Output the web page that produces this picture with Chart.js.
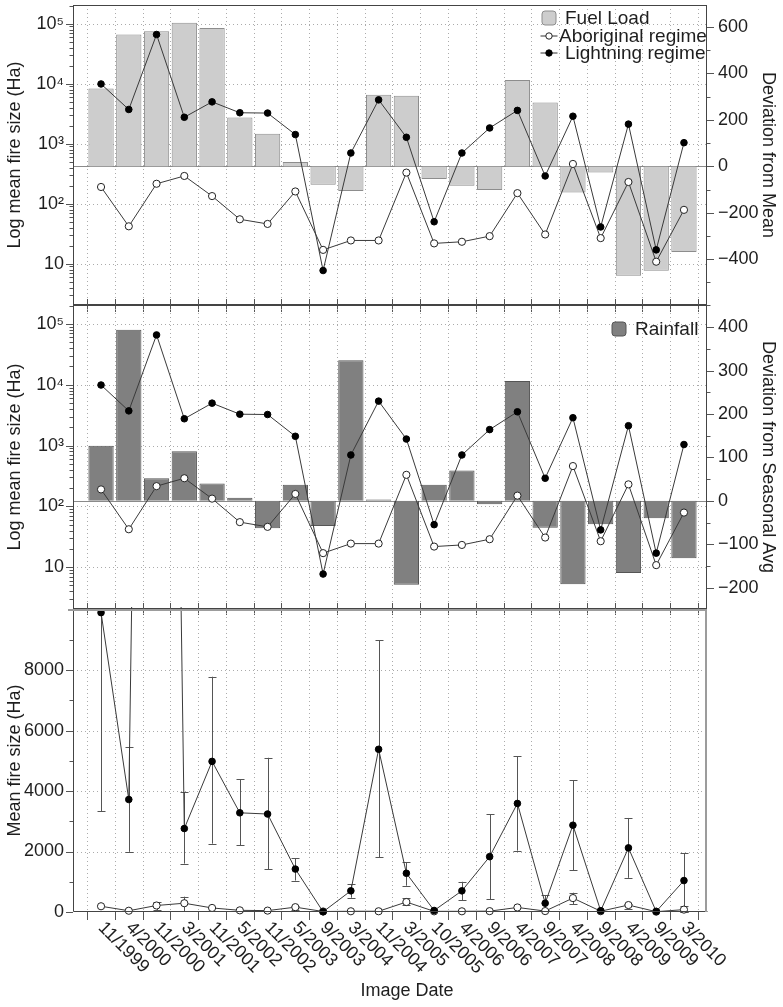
<!DOCTYPE html>
<html><head><meta charset="utf-8">
<script src="https://cdn.jsdelivr.net/npm/chart.js@4.4.1/dist/chart.umd.min.js"></script>
<style>
html,body{margin:0;padding:0;background:#fff;}
body{width:783px;height:1007px;position:relative;overflow:hidden;}
.p{position:absolute;left:0;width:783px;}
</style></head><body>
<div class="p" style="top:0;height:312px"><canvas id="c1"></canvas></div>
<div class="p" style="top:299px;height:316px"><canvas id="c2"></canvas></div>
<div class="p" style="top:603px;height:404px"><canvas id="c3"></canvas></div>
<script>
// ---------------- data ----------------
const categories = ['11/1999','4/2000','11/2000','3/2001','11/2001','5/2002','11/2002','5/2003','9/2003','3/2004','11/2004','3/2005','10/2005','4/2006','9/2006','4/2007','9/2007','4/2008','9/2008','4/2009','9/2009','3/2010'];
const lightning  = [9900, 3720, 66000, 2760, 4980, 3280, 3240, 1420, 7.7, 700, 5380, 1280, 50, 700, 1830, 3590, 290, 2870, 41, 2120, 17, 1040];
const aboriginal = [190, 42, 215, 290, 134, 55, 46, 160, 17, 24.4, 24.4, 330, 21.8, 23.2, 28.8, 150, 30.7, 460, 26.7, 230, 10.8, 79];
const fuelLoadDev = [335, 568, 582, 619, 596, 210, 140, 19, -79, -106, 309, 304, -54, -83, -102, 372, 275, -112, -26, -471, -449, -369];
const rainfallDev = [127, 394, 52, 114, 40, 7, -63, 37, -58, 324, 3, -193, 37, 70, -8, 276, -62, -192, -54, -166, -40, -132];
const lightningLo = [3340, 1990, 30000, 1600, 2260, 2210, 1410, 1040, null, 473, 1810, 870, null, 390, 420, 2030, 60, 1380, null, 1130, null, 10];
const lightningHi = [16000, 5450, 100000, 3960, 7780, 4390, 5100, 1780, null, 915, 8980, 1640, null, 1000, 3230, 5150, 550, 4350, null, 3110, null, 1940];
const aboriginalLo = [null, null, 66, 33, null, null, null, 60, null, null, null, 231, null, null, null, null, null, 264, null, 109, null, 0];
const aboriginalHi = [null, null, 330, 506, null, null, null, 200, null, null, null, 453, null, null, null, null, null, 638, null, 274, null, 200];
const logTickValues = [10, 100, 1000, 10000, 100000];
const logTickLabels = ['10', '10²', '10³', '10⁴', '10⁵'];
const fuelTickValues = [-400, -200, 0, 200, 400, 600];
const rainTickValues = [-200, -100, 0, 100, 200, 300, 400];
const meanTickValues = [0, 2000, 4000, 6000, 8000];

// ---------------- helpers ----------------
const FONT = '"Liberation Sans", Arial, Helvetica, sans-serif';
const TXT = '#1e1e1e';
const pts = arr => arr.map((v, i) => ({x: i, y: v}));
function seg(ctx, x1, y1, x2, y2) { ctx.beginPath(); ctx.moveTo(x1, y1); ctx.lineTo(x2, y2); ctx.stroke(); }
const fmtNum = v => String(v).replace('-', '\u2212');

function xAxis() { return {type: 'linear', display: false, min: -1.01, max: 21.83, offset: false}; }
function fixPad(s) { s.paddingTop = 0; s.paddingBottom = 0; }
function leftLog(title) {
  return {
    type: 'logarithmic', position: 'left', min: 2.05, max: 205000,
    afterBuildTicks: s => { s.ticks = logTickValues.map(v => ({value: v})); },
    afterFit: s => { s.width = 73; fixPad(s); },
    grid: {display: false, drawTicks: true, tickLength: 6}, border: {display: false},
    ticks: {autoSkip: false, padding: 3, color: TXT, font: {family: FONT, size: 18},
      callback: v => { const k = logTickValues.indexOf(v); return k < 0 ? '' : logTickLabels[k]; }},
    title: {display: true, text: title, color: TXT, font: {family: FONT, size: 18}, padding: {top: 4, bottom: 4}}
  };
}
function linAxis(pos, min, max, tickVals, title, width) {
  return {
    type: 'linear', position: pos, min: min, max: max,
    afterBuildTicks: s => { s.ticks = tickVals.map(v => ({value: v})); },
    afterFit: s => { s.width = width; fixPad(s); },
    grid: {display: false, drawTicks: true, tickLength: 6}, border: {display: false},
    ticks: {autoSkip: false, padding: pos === 'left' ? 3 : 5, color: TXT, font: {family: FONT, size: 18}, callback: v => fmtNum(v)},
    title: {display: true, text: title, color: TXT, font: {family: FONT, size: 18}, padding: {top: 4, bottom: 4}}
  };
}
function aboDs(axis, clip) {
  return {type: 'line', label: 'Aboriginal regime', data: pts(aboriginal), yAxisID: axis, borderColor: '#3a3a3a', borderWidth: 1,
    pointRadius: 3.6, pointBorderWidth: 1, pointBackgroundColor: '#fff', pointBorderColor: '#222', tension: 0, order: 2, clip: clip};
}
function ligDs(axis, clip) {
  return {type: 'line', label: 'Lightning regime', data: pts(lightning), yAxisID: axis, borderColor: '#3a3a3a', borderWidth: 1,
    pointRadius: 3.3, pointBorderWidth: 1, pointBackgroundColor: '#000', pointBorderColor: '#000', tension: 0, order: 1, clip: clip};
}

function drawErr(ctx, X, Y, a, lo, hi) {
  lo.forEach((l, i) => {
    const h = hi[i];
    if (l === null || h === null) return;
    const px = Math.round(X.getPixelForValue(i)) + 0.5;
    const yl = Y.getPixelForValue(l), yh = Y.getPixelForValue(h);
    const y1 = Math.max(Math.min(yl, a.bottom), a.top), y2 = Math.max(Math.min(yh, a.bottom), a.top);
    if (y1 === y2) return;
    seg(ctx, px, y1, px, y2);
    if (yh >= a.top && yh <= a.bottom) seg(ctx, px - 4, Math.round(yh) + 0.5, px + 4, Math.round(yh) + 0.5);
    if (yl >= a.top && yl <= a.bottom) seg(ctx, px - 4, Math.round(yl) + 0.5, px + 4, Math.round(yl) + 0.5);
  });
}

function makeDeco(cfg) {
  return {
    id: 'deco',
    beforeDatasetsDraw(chart) {
      const {ctx, chartArea: a, scales: s} = chart;
      const X = s.x;
      ctx.save();
      ctx.lineWidth = 1;
      ctx.strokeStyle = '#ababab';
      ctx.setLineDash([1, 3]);
      for (let i = 0; i <= categories.length; i++) {
        const px = Math.round(X.getPixelForValue(i - 0.5)) + 0.5;
        seg(ctx, px, a.top, px, a.bottom);
      }
      const G = s[cfg.gridAxis];
      cfg.gridValues.forEach(v => {
        const py = Math.round(G.getPixelForValue(v)) + 0.5;
        if (py > a.top + 1 && py < a.bottom - 1) seg(ctx, a.left, py, a.right, py);
      });
      ctx.setLineDash([]);
      if (cfg.zeroAxis) {
        const py = Math.round(s[cfg.zeroAxis].getPixelForValue(0)) + 0.5;
        ctx.strokeStyle = '#8a8a8a';
        seg(ctx, a.left, py, a.right, py);
      }
      if (cfg.errors) {
        ctx.strokeStyle = '#555';
        drawErr(ctx, X, s.yL, a, lightningLo, lightningHi);
        drawErr(ctx, X, s.yL, a, aboriginalLo, aboriginalHi);
      }
      ctx.restore();
    },
    afterDraw(chart) {
      const {ctx, chartArea: a, scales: s} = chart;
      const X = s.x;
      ctx.save();
      ctx.lineWidth = 1;
      ctx.strokeStyle = '#444';
      const L = Math.round(a.left) + 0.5, R = Math.round(a.right) - 0.5, T = Math.round(a.top) + 0.5, B = Math.round(a.bottom) - 0.5;
      // frame
      if (cfg.bottomPanel) {
        seg(ctx, L, T, L, B); seg(ctx, L, B, R + 1, B);
        ctx.strokeStyle = '#9c9c9c'; ctx.lineWidth = 2;
        seg(ctx, a.left - 5, a.top + 1, a.right, a.top + 1);
        seg(ctx, a.right - 1, a.top, a.right - 1, a.bottom);
        ctx.lineWidth = 1; ctx.strokeStyle = '#444';
      } else {
        ctx.strokeRect(L, T, R - L, B - T);
      }
      // x ticks
      ctx.strokeStyle = '#555';
      for (let i = 0; i <= categories.length; i++) {
        const px = Math.round(X.getPixelForValue(i - 0.5)) + 0.5;
        if (cfg.bottomPanel) seg(ctx, px, a.bottom, px, a.bottom + 8);
        else seg(ctx, px, a.bottom - 6, px, a.bottom + 7);
      }
      // left y ticks
      const YL = s.yL;
      if (YL.type === 'logarithmic') {
        for (let e = 0; e <= 5; e++) for (let k = 1; k <= 9; k++) {
          const v = k * Math.pow(10, e);
          if (v < YL.min || v > YL.max) continue;
          const py = Math.round(YL.getPixelForValue(v)) + 0.5;
          seg(ctx, a.left - (k === 1 ? 7 : 3.5), py, a.left, py);
        }
      } else {
        YL.ticks.forEach(t => { const py = Math.round(YL.getPixelForValue(t.value)) + 0.5; seg(ctx, a.left - 7, py, a.left, py); });
        for (let v = 1000; v < YL.max; v += 2000) { const py = Math.round(YL.getPixelForValue(v)) + 0.5; seg(ctx, a.left - 3.5, py, a.left, py); }
      }
      // right y ticks
      if (s.yR) {
        const YR = s.yR;
        YR.ticks.forEach(t => { const py = Math.round(YR.getPixelForValue(t.value)) + 0.5; seg(ctx, a.right, py, a.right + 7, py); });
        const st = (YR.ticks[1].value - YR.ticks[0].value) / 2;
        for (let v = YR.ticks[0].value - st; v <= YR.max; v += 2 * st) {
          if (v < YR.min) continue;
          const py = Math.round(YR.getPixelForValue(v)) + 0.5; seg(ctx, a.right, py, a.right + 3.5, py);
        }
      }
      // legend
      ctx.font = '19px ' + FONT;
      ctx.textBaseline = 'middle';
      ctx.textAlign = 'left';
      (cfg.legend || []).forEach(it => {
        const ds = chart.data.datasets[it.ds];
        const cx = a.right + it.dx, cy = a.top + it.dy;
        if (it.kind === 'box') {
          ctx.fillStyle = ds.backgroundColor; ctx.strokeStyle = ds.borderColor;
          ctx.beginPath(); ctx.roundRect(cx - 7, cy - 7, 14, 14, 3); ctx.fill(); ctx.stroke();
        } else {
          ctx.strokeStyle = '#333';
          seg(ctx, cx - 8.5, cy, cx + 8.5, cy);
          ctx.beginPath(); ctx.arc(cx, cy, 3.2, 0, Math.PI * 2);
          ctx.fillStyle = ds.pointBackgroundColor; ctx.fill(); ctx.strokeStyle = ds.pointBorderColor; ctx.stroke();
        }
        ctx.fillStyle = TXT;
        ctx.fillText(ds.label, a.right + it.tx, cy + 1);
      });
      // x labels
      if (cfg.bottomPanel) {
        ctx.fillStyle = TXT;
        ctx.font = '18px ' + FONT;
        ctx.textAlign = 'left'; ctx.textBaseline = 'middle';
        categories.forEach((c, i) => {
          const px = X.getPixelForValue(i);
          ctx.save(); ctx.translate(px, a.bottom + 13); ctx.rotate(Math.PI / 4); ctx.fillText(c, 0, 0); ctx.restore();
        });
        ctx.font = '18px ' + FONT; ctx.textAlign = 'center';
        ctx.fillText('Image Date', 407, a.bottom + 79);
      }
      ctx.restore();
    }
  };
}

Chart.defaults.font.family = FONT;
const common = {responsive: true, maintainAspectRatio: false, animation: false, events: [],
  plugins: {legend: {display: false}, tooltip: {enabled: false}}};

// ---------------- panel 1 ----------------
new Chart(document.getElementById('c1'), {
  type: 'bar',
  data: {datasets: [
    {type: 'bar', label: 'Fuel Load', data: pts(fuelLoadDev), yAxisID: 'yR', backgroundColor: '#cdcdcd', borderColor: '#8d8d8d', borderWidth: 1,
      categoryPercentage: 1, barPercentage: 0.91, order: 3},
    aboDs('yL'), ligDs('yL')
  ]},
  options: Object.assign({}, common, {
    layout: {padding: {top: 1, bottom: 7, left: 0, right: 0}},
    scales: {x: xAxis(), yL: leftLog('Log mean fire size (Ha)'), yR: linAxis('right', -597, 695, fuelTickValues, 'Deviation from Mean', 76)}
  }),
  plugins: [makeDeco({gridAxis: 'yL', gridValues: logTickValues, zeroAxis: 'yR',
    legend: [{ds: 0, kind: 'box', dx: -158, dy: 13, tx: -142}, {ds: 1, kind: 'open', dx: -158, dy: 31, tx: -148}, {ds: 2, kind: 'dot', dx: -158, dy: 48, tx: -142}]})]
});

// ---------------- panel 2 ----------------
new Chart(document.getElementById('c2'), {
  type: 'bar',
  data: {datasets: [
    {type: 'bar', label: 'Rainfall', data: pts(rainfallDev), yAxisID: 'yR', backgroundColor: '#808080', borderColor: '#555', borderWidth: 1,
      categoryPercentage: 1, barPercentage: 0.91, order: 3},
    aboDs('yL'), ligDs('yL')
  ]},
  options: Object.assign({}, common, {
    layout: {padding: {top: 6, bottom: 6, left: 0, right: 0}},
    scales: {x: xAxis(), yL: leftLog('Log mean fire size (Ha)'), yR: linAxis('right', -249, 451, rainTickValues, 'Deviation from Seasonal Avg', 76)}
  }),
  plugins: [makeDeco({gridAxis: 'yL', gridValues: logTickValues, zeroAxis: 'yR',
    legend: [{ds: 0, kind: 'box', dx: -88, dy: 24, tx: -72}]})]
});

// ---------------- panel 3 ----------------
new Chart(document.getElementById('c3'), {
  type: 'line',
  data: {datasets: [aboDs('yL', {left: 5, right: 5, top: 2, bottom: 5}), ligDs('yL', {left: 5, right: 5, top: 2, bottom: 5})]},
  options: Object.assign({}, common, {
    layout: {padding: {top: 6, bottom: 95, left: 0, right: 76}},
    scales: {x: xAxis(), yL: linAxis('left', 0, 10020, meanTickValues, 'Mean fire size (Ha)', 73)}
  }),
  plugins: [makeDeco({gridAxis: 'yL', gridValues: meanTickValues, errors: true, bottomPanel: true})]
});
</script>
</body></html>
